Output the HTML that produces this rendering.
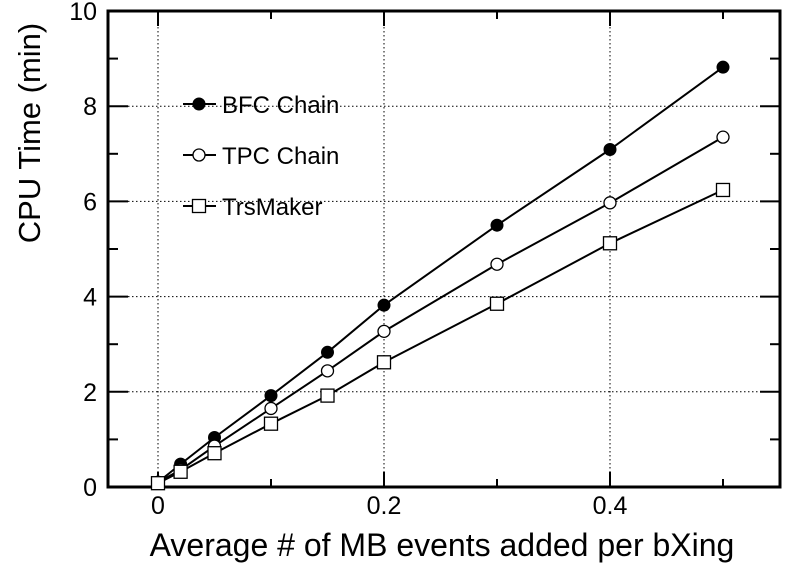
<!DOCTYPE html>
<html><head><meta charset="utf-8"><style>
body{margin:0;background:#fff;}
text{font-family:"Liberation Sans",Arial,sans-serif;fill:#000;}
</style></head><body>
<svg width="796" height="572" viewBox="0 0 796 572">
<g id="grid"></g>
<g id="axes"></g>
<g id="series"></g>
<g id="legend"></g>
<text x="442" y="556" font-size="32" text-anchor="middle">Average # of MB events added per bXing</text>
<text transform="translate(40,133) rotate(-90)" font-size="31" text-anchor="middle">CPU Time (min)</text>
</svg>
<script>
const xValues=[0,0.02,0.05,0.1,0.15,0.2,0.3,0.4,0.5];
const bfcValues=[0.1,0.48,1.04,1.92,2.83,3.82,5.5,7.09,8.82];
const tpcValues=[0.1,0.36,0.86,1.65,2.44,3.27,4.68,5.97,7.35];
const trsValues=[0.08,0.32,0.71,1.33,1.92,2.62,3.85,5.12,6.24];
const xTicks=[0,0.2,0.4];
const yTicks=[0,2,4,6,8,10];
const seriesNames=["BFC Chain","TPC Chain","TrsMaker"];
const L=108,R=780,T=11,B=487;
const X0=158,XS=1130;
function sx(v){return X0+v*XS;}
function sy(v){return B-v*47.6;}
const NS="http://www.w3.org/2000/svg";
function mk(p,tag,a){const e=document.createElementNS(NS,tag);for(const k in a)e.setAttribute(k,a[k]);p.appendChild(e);return e;}
const grid=document.getElementById('grid'),axes=document.getElementById('axes'),ser=document.getElementById('series'),leg=document.getElementById('legend');
xTicks.forEach(v=>{const l=mk(grid,'line',{x1:sx(v),x2:sx(v),y1:T,y2:B,stroke:'#000','stroke-width':1,'stroke-dasharray':'1.5,2.5'});

});
yTicks.slice(1,-1).forEach(v=>{const l=mk(grid,'line',{x1:L,x2:R,y1:sy(v),y2:sy(v),stroke:'#000','stroke-width':1,'stroke-dasharray':'1.5,2.5'});

});
const fr=mk(axes,'rect',{x:L,y:T,width:R-L,height:B-T,fill:'none',stroke:'#000','stroke-width':3});


for(let v=0;v<=10;v++){const len=v%2==0?20:10;
mk(axes,'line',{x1:L,x2:L+len,y1:sy(v),y2:sy(v),stroke:'#000','stroke-width':2});
mk(axes,'line',{x1:R-len,x2:R,y1:sy(v),y2:sy(v),stroke:'#000','stroke-width':2});}
for(let i=0;i<=5;i++){const v=i/10;const len=i%2==0?15:8;
mk(axes,'line',{x1:sx(v),x2:sx(v),y1:B,y2:B-len,stroke:'#000','stroke-width':2});
mk(axes,'line',{x1:sx(v),x2:sx(v),y1:T,y2:T+len,stroke:'#000','stroke-width':2});}
yTicks.forEach(v=>{const t=mk(axes,'text',{x:97,y:sy(v)+9,'font-size':25,'text-anchor':'end'});t.textContent=v;

});
xTicks.forEach(v=>{const t=mk(axes,'text',{x:sx(v),y:514,'font-size':25,'text-anchor':'middle'});t.textContent=v;

});
function marker(p,type,x,y){let e;
if(type==0)e=mk(p,'circle',{cx:x,cy:y,r:6,fill:'#000',stroke:'#000','stroke-width':1});
else if(type==1)e=mk(p,'circle',{cx:x,cy:y,r:6,fill:'#fff',stroke:'#000','stroke-width':1.3});
else e=mk(p,'rect',{x:x-6.5,y:y-6.5,width:13,height:13,fill:'#fff',stroke:'#000','stroke-width':1.3});
return e;}
[bfcValues,tpcValues,trsValues].forEach((vals,si)=>{
const g=mk(ser,'g',{});


const pl=mk(g,'polyline',{points:vals.map((v,i)=>sx(xValues[i])+','+sy(v)).join(' '),fill:'none',stroke:'#000','stroke-width':2});


vals.forEach((v,i)=>{const m=marker(g,si,sx(xValues[i]),sy(v));

});
});
seriesNames.forEach((n,i)=>{const y=104+i*51;
const g=mk(leg,'g',{});


mk(g,'line',{x1:183,x2:216,y1:y,y2:y,stroke:'#000','stroke-width':2});
marker(g,i,199,y);
const t=mk(g,'text',{x:222,y:y+9,'font-size':24});t.textContent=n;});
</script>
</body></html>
